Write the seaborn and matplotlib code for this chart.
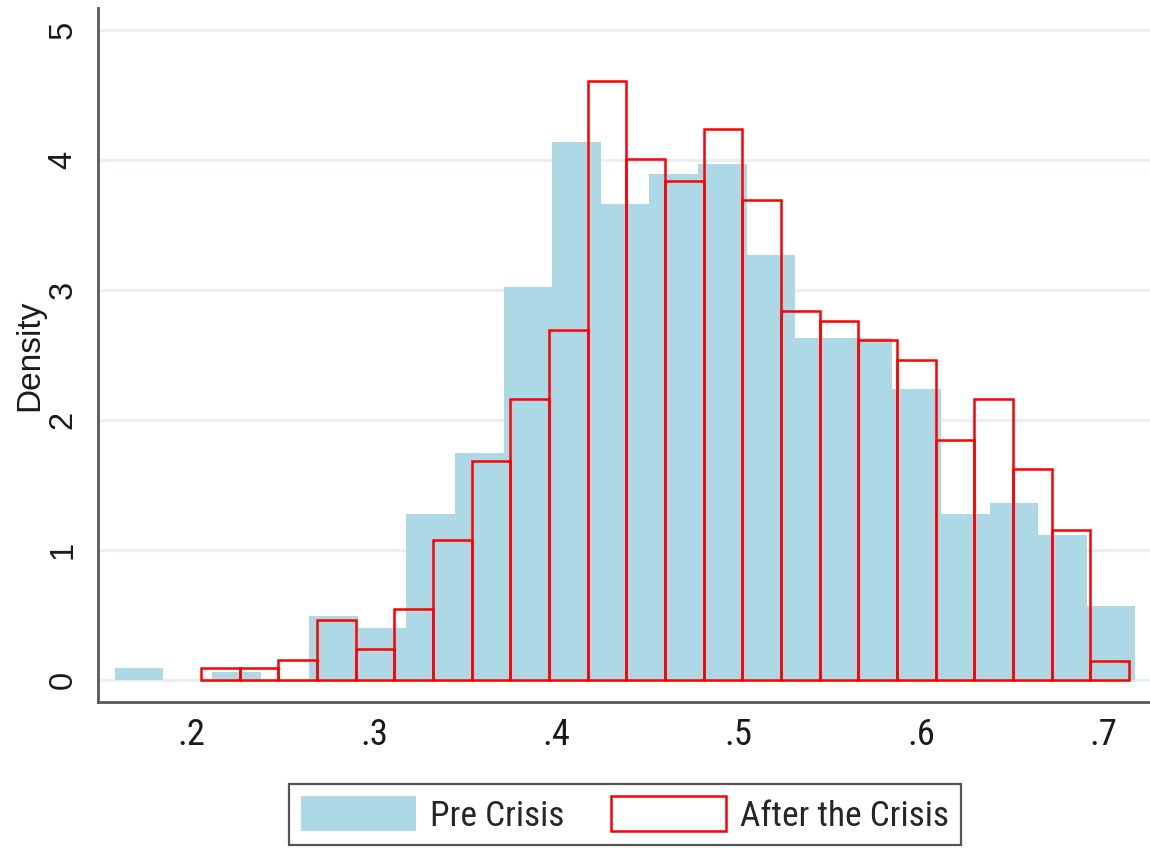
import pandas as pd
import matplotlib
matplotlib.use("Agg")
import matplotlib.pyplot as plt
from matplotlib import font_manager as fm
from matplotlib.patches import Patch
import seaborn as sns

# Histogram bins: first edge and bin width for each period
pre_start, pre_width = 0.1578, 0.02666
post_start, post_width = 0.2051, 0.02121

# Density of each bin
pre_density = [0.095, 0.0, 0.06, 0.0, 0.49, 0.40, 1.28, 1.75, 3.02, 4.14, 3.66,
               3.89, 3.97, 3.27, 2.63, 2.63, 2.24, 1.28, 1.36, 1.115, 0.57]
post_density = [0.09, 0.09, 0.154, 0.46, 0.24, 0.543, 1.08, 1.685, 2.16, 2.69,
                4.61, 4.01, 3.84, 4.24, 3.69, 2.84, 2.76, 2.615, 2.46, 1.85,
                2.16, 1.62, 1.154, 0.149]

x_ticks = [0.2, 0.3, 0.4, 0.5, 0.6, 0.7]
x_tick_labels = [".2", ".3", ".4", ".5", ".6", ".7"]
y_ticks = [0, 1, 2, 3, 4, 5]
legend_labels = ["Pre Crisis", "After the Crisis"]

PRE_COLOR = "#add8e6"
POST_COLOR = "#ff0000"

sns.set_style("white")
regular = ["Liberation Sans", "DejaVu Sans"]
plt.rcParams["font.family"] = regular


def narrow_font(size):
    """Return a condensed sans-serif face when one is installed."""
    wanted = ["liberation sans narrow", "arial narrow", "roboto condensed",
              "open sans condensed", "noto sans condensed",
              "dejavu sans condensed"]
    entries = fm.fontManager.ttflist
    for name in wanted:
        for f in entries:
            label = (f.name + " " + f.fname).lower().replace("-", " ")
            is_plain = f.weight in (400, "normal", "regular") and f.style == "normal"
            if name.split()[0] in label and (
                    name.split()[-1] in label or f.stretch == "condensed"):
                base = f.fname.lower()
                if is_plain and "bold" not in base and "italic" not in base \
                        and "light" not in base and "oblique" not in base:
                    return fm.FontProperties(fname=f.fname, size=size), True
    return fm.FontProperties(family=regular, size=size * 0.86), False


fig = plt.figure(figsize=(11.5, 8.48), dpi=100)
ax = fig.add_axes([98 / 1150, 1 - 702 / 848, 1 - 98 / 1150, (702 - 8) / 848])

pre_edges = [pre_start + pre_width * i for i in range(len(pre_density) + 1)]
post_edges = [post_start + post_width * i for i in range(len(post_density) + 1)]
pre_df = pd.DataFrame({"share": [e + pre_width / 2 for e in pre_edges[:-1]],
                       "density": pre_density})
post_df = pd.DataFrame({"share": [e + post_width / 2 for e in post_edges[:-1]],
                        "density": post_density})

sns.histplot(data=pre_df, x="share", weights="density", bins=pre_edges,
             stat="count", element="bars", fill=True, color=PRE_COLOR,
             alpha=1, linewidth=0, ax=ax, zorder=2)
sns.histplot(data=post_df, x="share", weights="density", bins=post_edges,
             stat="count", element="bars", fill=False, color=POST_COLOR,
             alpha=1, linewidth=1.8, ax=ax, zorder=3)

ax.set_xlim(0.1486, 0.7257)
ax.set_ylim(-0.169, 5.169)

tick_font, _ = narrow_font(26.5)
ax.set_yticks(y_ticks)
ax.set_yticklabels([str(v) for v in y_ticks], rotation=90, va="center",
                   fontsize=23.5, family=regular, color="#1a1a1a")
ax.set_xticks(x_ticks)
ax.set_xticklabels(x_tick_labels, color="#1a1a1a")
for lab in ax.get_xticklabels():
    lab.set_fontproperties(tick_font)

ax.yaxis.grid(True, color="#e8f0f2", linewidth=2.2, zorder=0)
ax.xaxis.grid(False)
ax.set_axisbelow(True)

for side in ("top", "right"):
    ax.spines[side].set_visible(False)
for side in ("left", "bottom"):
    ax.spines[side].set_color("#5a5a5a")
    ax.spines[side].set_linewidth(2.0)

ax.tick_params(axis="both", direction="out", length=9, width=1.4,
               color="#3a3a3a")
ax.tick_params(axis="y", pad=5)
ax.tick_params(axis="x", pad=2)

ax.set_xlabel("")
ax.set_ylabel("Density", fontsize=24, family=regular, color="#1a1a1a")
ax.yaxis.set_label_coords(-0.05, 0.5)

legend_font, _ = narrow_font(25.5)
handles = [Patch(facecolor=PRE_COLOR, edgecolor="none"),
           Patch(facecolor="white", edgecolor=POST_COLOR, linewidth=1.8)]
leg = fig.legend(handles, legend_labels, loc="upper center",
                 bbox_to_anchor=(625 / 1150, 1 - 784 / 848), ncol=2,
                 frameon=True, fancybox=False, prop=legend_font,
                 handlelength=3.25, handleheight=1.12, handletextpad=0.4,
                 columnspacing=1.3, borderpad=0.35, borderaxespad=0)
leg.get_frame().set_edgecolor("#2a2a2a")
leg.get_frame().set_linewidth(1.6)

fig.savefig("out.png", dpi=100)
